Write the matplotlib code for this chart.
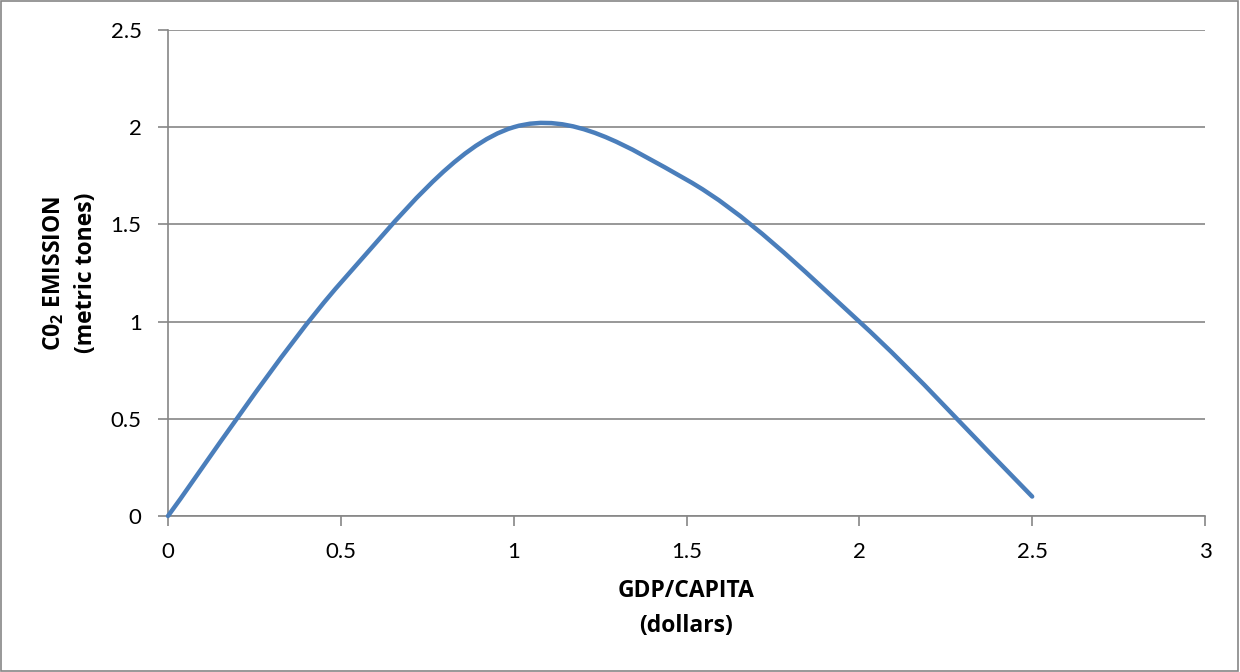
import matplotlib
matplotlib.use("Agg")
import matplotlib.pyplot as plt
import numpy as np
from matplotlib.path import Path
from matplotlib.patches import PathPatch, Rectangle

# Data (Excel scatter with smoothed line)
gdp = [0, 0.5, 1.0, 1.5, 2.0, 2.5]
co2 = [0, 1.2, 2.0, 1.73, 1.0, 0.1]

x_ticks = [0, 0.5, 1, 1.5, 2, 2.5, 3]
y_ticks = [0, 0.5, 1, 1.5, 2, 2.5]

plt.rcParams["font.family"] = ["Lato", "DejaVu Sans"]
plt.rcParams["mathtext.fontset"] = "custom"
plt.rcParams["mathtext.rm"] = "Open Sans"
plt.rcParams["mathtext.bf"] = "Open Sans:bold"

LINE = "#4a7ebb"
GRID = "#868686"
LABEL_FONT = ["Open Sans", "DejaVu Sans"]


def excel_smooth_path(xs, ys):
    # Bezier segments roughly the way Excel builds its "smoothed line"
    pts = np.column_stack([xs, ys]).astype(float)
    n = len(pts)
    verts = [pts[0]]
    codes = [Path.MOVETO]
    for i in range(n - 1):
        if i > 0:
            c1 = pts[i] + (pts[i + 1] - pts[i - 1]) / 6.0
        else:
            c1 = pts[i] + (pts[i + 1] - pts[i]) / 6.0
        if i + 2 < n:
            c2 = pts[i + 1] - (pts[i + 2] - pts[i]) / 6.0
        else:
            c2 = pts[i + 1] - (pts[i + 1] - pts[i]) / 3.0
        verts += [c1, c2, pts[i + 1]]
        codes += [Path.CURVE4] * 3
    return Path(verts, codes)


fig = plt.figure(figsize=(12.4, 6.72), dpi=100)
ax = fig.add_axes([168 / 1240, 1 - 516 / 672, (1205 - 168) / 1240, (516 - 30) / 672])

patch = PathPatch(excel_smooth_path(gdp, co2), facecolor="none", edgecolor=LINE,
                  linewidth=3.2, capstyle="round", joinstyle="round", zorder=3,
                  clip_on=False)
ax.add_patch(patch)

ax.set_xlim(0, 3)
ax.set_ylim(0, 2.5)
ax.set_xticks(x_ticks)
ax.set_yticks(y_ticks)
ax.set_xticklabels([f"{v:g}" for v in x_ticks])
ax.set_yticklabels([f"{v:g}" for v in y_ticks])
ax.tick_params(axis="both", direction="out", length=7, width=1.2, color=GRID,
               labelsize=16, pad=12)

ax.yaxis.grid(True, color=GRID, linewidth=1.2)
ax.set_axisbelow(True)
for side in ["top", "right"]:
    ax.spines[side].set_visible(False)
for side in ["left", "bottom"]:
    ax.spines[side].set_color(GRID)
    ax.spines[side].set_linewidth(1.2)

ax.set_xlabel("GDP/CAPITA\n(dollars)", fontsize=16.5, fontweight="bold",
              family=LABEL_FONT, linespacing=1.6, labelpad=12)
ax.set_ylabel("C0$_\\mathbf{2}$ EMISSION\n(metric tones)", fontsize=16.5,
              fontweight="bold", family=LABEL_FONT, linespacing=1.45, labelpad=9)

# outer chart border
fig.patches.append(Rectangle((0.0005, 0.001), 0.998, 0.997, transform=fig.transFigure,
                             fill=False, edgecolor=GRID, linewidth=1.2))

fig.savefig("out.png", dpi=100)
